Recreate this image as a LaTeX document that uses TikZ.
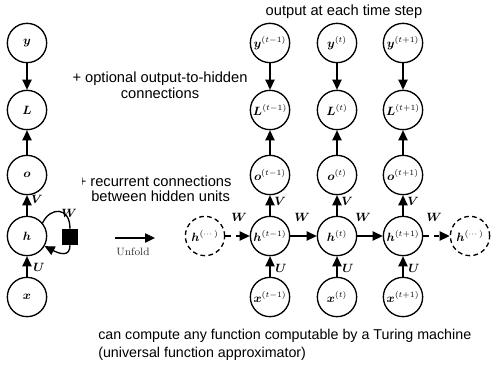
\documentclass[tikz,border=0pt]{standalone}
\usepackage{amsmath}
\usepackage{fontspec}
\setsansfont{Liberation Sans}
\usetikzlibrary{arrows.meta}

\begin{document}
\begin{tikzpicture}[x=0.75pt,y=-0.75pt,
  unit/.style={circle,draw,line width=1pt,minimum size=29.5pt,inner sep=0pt,font=\small},
  ghost/.style={unit,dash pattern=on 3.5pt off 2.5pt},
  flow/.style={line width=1pt,-{Triangle[length=7.5pt,width=7pt]}},
  wlabel/.style={font=\small,inner sep=0pt},
  note/.style={font=\sffamily\fontsize{11}{12}\selectfont,inner sep=0pt},
  smallnote/.style={font=\sffamily\fontsize{10.7}{12}\selectfont,inner sep=0pt}
]
\useasboundingbox (0,0) rectangle (491,365);

% ---- folded network ----
\node[unit] (y) at (27,43)  {$\boldsymbol{y}$};
\node[unit] (L) at (27,110) {$\boldsymbol{L}$};
\node[unit] (o) at (27,175) {$\boldsymbol{o}$};
\node[unit] (h) at (27,236) {$\boldsymbol{h}$};
\node[unit] (x) at (27,297) {$\boldsymbol{x}$};
\draw[flow] (y) -- (L);
\draw[flow] (o) -- (L);
\draw[flow] (h) -- (o);
\draw[flow] (x) -- (h);
\node[wlabel] at (37,199) {$\boldsymbol{V}$};
\node[wlabel] at (39,267) {$\boldsymbol{U}$};

% recurrent self-loop through the delay square
\node[rectangle,fill=black,minimum size=12pt,inner sep=0pt] (sq) at (70,237) {};
\draw[line width=1pt] (h.40) .. controls (50,207) and (70,206) .. (sq.north);
\draw[flow] (sq.south) .. controls (70,257) and (60,254) .. (h.-30);
\node[wlabel] at (69,213) {$\boldsymbol{W}$};

% unfold arrow
\coordinate (u1) at (115,238);
\coordinate (u2) at (155,238);
\draw[flow] (u1) -- (u2);
\node[inner sep=0pt,font=\footnotesize,text=black!80] at (133,252) {Unfold};

% ---- unfolded network ----
\foreach \n/\xx/\s in {a/270/t-1, b/337/t, c/403/t+1} {
  \node[unit] (y\n) at (\xx,43)  {$\boldsymbol{y}^{(\s)}$};
  \node[unit] (L\n) at (\xx,110) {$\boldsymbol{L}^{(\s)}$};
  \node[unit] (o\n) at (\xx,175) {$\boldsymbol{o}^{(\s)}$};
  \node[unit] (h\n) at (\xx,236) {$\boldsymbol{h}^{(\s)}$};
  \node[unit] (x\n) at (\xx,297) {$\boldsymbol{x}^{(\s)}$};
  \draw[flow] (y\n) -- (L\n);
  \draw[flow] (o\n) -- (L\n);
  \draw[flow] (h\n) -- (o\n);
  \draw[flow] (x\n) -- (h\n);
  \node[wlabel] at (\xx+10,201) {$\boldsymbol{V}$};
  \node[wlabel] at (\xx+11,268) {$\boldsymbol{U}$};
}
\node[ghost] (hl) at (205,236) {$\boldsymbol{h}^{(\cdots)}$};
\node[ghost] (hr) at (470,236) {$\boldsymbol{h}^{(\cdots)}$};
\draw[flow,dash pattern=on 4pt off 4pt] (hl) -- (ha);
\draw[flow] (ha) -- (hb);
\draw[flow] (hb) -- (hc);
\draw[flow,dash pattern=on 4pt off 4pt] (hc) -- (hr);
\node[wlabel] at (239,217) {$\boldsymbol{W}$};
\node[wlabel] at (302,217) {$\boldsymbol{W}$};
\node[wlabel] at (363,217) {$\boldsymbol{W}$};
\node[wlabel] at (434,217) {$\boldsymbol{W}$};

% ---- annotations ----
\node[note] at (344,12) {output at each time step};
\node[note,align=center] at (160,85) {+ optional output-to-hidden\\connections};
\begin{scope}
  \clip (82,170) rectangle (260,210);
  \node[note,anchor=base west] at (77.5,186) {+ recurrent connections};
\end{scope}
\node[note,anchor=base west] at (91,201) {between hidden units};
\node[smallnote,anchor=base west] at (98,339) {can compute any function computable by a Turing machine};
\node[smallnote,anchor=base west] at (98,357) {(universal function approximator)};
\end{tikzpicture}
\end{document}
